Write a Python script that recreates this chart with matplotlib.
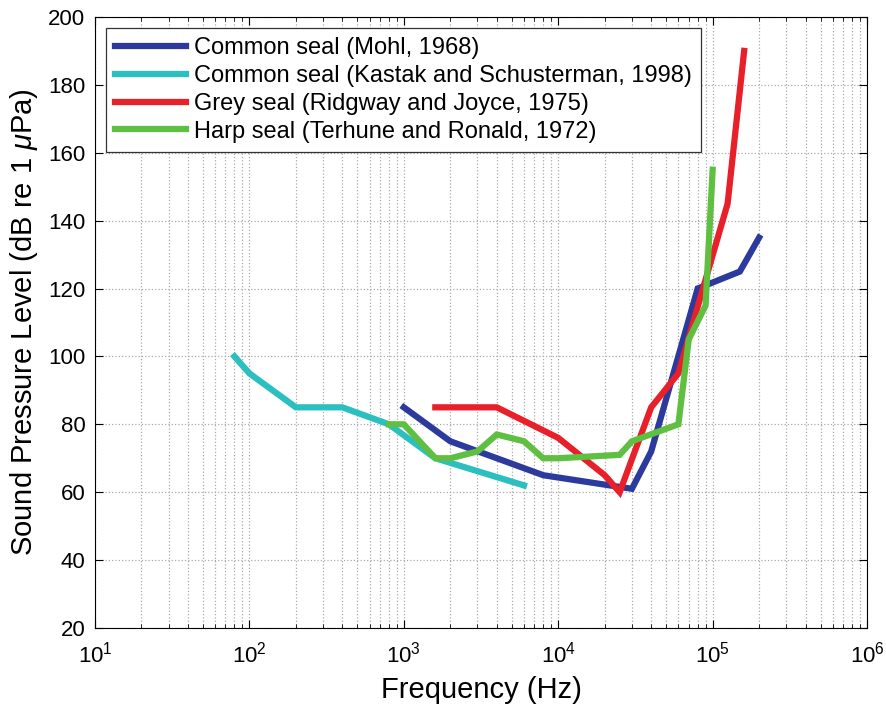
import numpy as np
import matplotlib
matplotlib.use("Agg")
import matplotlib.pyplot as plt
from matplotlib.ticker import LogLocator, NullFormatter

# Hearing thresholds
mohl_f = [1000, 2000, 4000, 8000, 30000, 40000, 80000, 150000, 200000]
mohl_spl = [85, 75, 70, 65, 61, 72, 120, 125, 135]

kastak_f = [80, 100, 200, 400, 800, 1600, 6000]
kastak_spl = [100, 95, 85, 85, 80, 70, 62]

grey_f = [1600, 4000, 10000, 20000, 25000, 40000, 60000, 125000, 160000]
grey_spl = [85, 85, 76, 65, 60, 85, 95, 145, 190]

harp_f = [800, 1000, 1600, 2000, 3000, 4000, 6000, 8000, 10000, 25000, 30000,
          60000, 70000, 90000, 100000]
harp_spl = [80, 80, 70, 70, 72, 77, 75, 70, 70, 71, 75, 80, 105, 115, 155]

labels = ["Common seal (Mohl, 1968)",
          "Common seal (Kastak and Schusterman, 1998)",
          "Grey seal (Ridgway and Joyce, 1975)",
          "Harp seal (Terhune and Ronald, 1972)"]
colors = ["#2b3a9c", "#2bbfc0", "#e8202a", "#5fbf40"]

plt.rcParams['font.family'] = ['Liberation Sans', 'DejaVu Sans']
plt.rcParams['mathtext.fontset'] = 'custom'
plt.rcParams['mathtext.rm'] = 'Liberation Sans'
plt.rcParams['mathtext.it'] = 'Liberation Sans:italic'

fig = plt.figure(figsize=(8.87, 7.04), dpi=100)
ax = fig.add_axes([0.1071, 0.108, 0.8704, 0.8679])

series = [(mohl_f, mohl_spl), (kastak_f, kastak_spl),
          (grey_f, grey_spl), (harp_f, harp_spl)]
for (f, s), lab, c in zip(series, labels, colors):
    ax.plot(f, s, color=c, lw=4.5, label=lab, solid_joinstyle='miter')

ax.set_xscale('log')
ax.set_xlim(10, 1e6)
ax.set_ylim(20, 200)
ax.set_yticks(np.arange(20, 201, 20))
ax.xaxis.set_minor_locator(LogLocator(base=10, subs=np.arange(2, 10)))
ax.xaxis.set_minor_formatter(NullFormatter())

ax.grid(True, which='major', ls=':', color='#aaaaaa', lw=0.9)
ax.grid(True, which='minor', axis='x', ls=':', color='#aaaaaa', lw=0.9)
ax.tick_params(which='both', direction='in', top=True, right=True,
               labelsize=16)
ax.tick_params(which='major', length=6)
ax.tick_params(which='minor', length=3)
ax.tick_params(axis='x', which='major', pad=10)
ax.tick_params(axis='y', which='major', pad=7)

ax.set_xlabel("Frequency (Hz)", fontsize=21, labelpad=6)
ax.set_ylabel(r"Sound Pressure Level (dB re 1 $\mu$Pa)", fontsize=21,
              labelpad=6)

leg = ax.legend(loc='upper left', fontsize=17, handlelength=3.0,
                fancybox=False, framealpha=1, edgecolor='#333333',
                borderpad=0.4, labelspacing=0.25, handletextpad=0.35,
                borderaxespad=0.45)
leg.get_frame().set_linewidth(0.9)

fig.savefig("out.png", dpi=100)
